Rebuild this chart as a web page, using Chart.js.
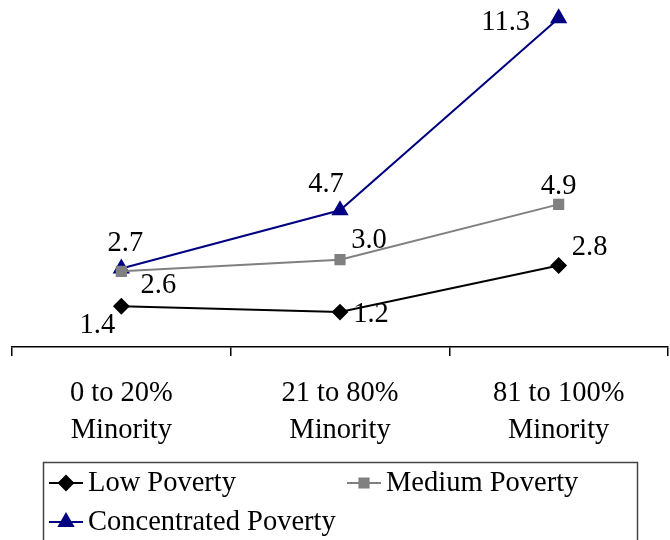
<!DOCTYPE html>
<html>
<head>
<meta charset="utf-8">
<script src="https://cdn.jsdelivr.net/npm/chart.js@4/dist/chart.umd.min.js"></script>
<style>
html,body{margin:0;padding:0;background:#fff;overflow:hidden;}
#wrap{width:670px;height:540px;position:relative;overflow:hidden;}
canvas{display:block;}
</style>
</head>
<body>
<div id="wrap"><canvas id="c" width="678" height="540"></canvas></div>
<script>
const categories = [["0 to 20%","Minority"],["21 to 80%","Minority"],["81 to 100%","Minority"]];
const lowPoverty = [1.4, 1.2, 2.8];
const mediumPoverty = [2.6, 3.0, 4.9];
const concentratedPoverty = [2.7, 4.7, 11.3];
const seriesNames = ["Low Poverty","Medium Poverty","Concentrated Poverty"];

const FONT = "'Liberation Serif','Times New Roman',serif";
const FS = 28.5;

// label offsets (style): [dx, dy] from point centre to label centre
const labelOffsets = [
  [[-24,19],[31,2],[31,-18]],
  [[37,14],[29,-19],[0,-18]],
  [[4,-25],[-14,-26],[-53,4]]
];

const dataLabels = {
  id:'dataLabels',
  afterDatasetsDraw(chart){
    const ctx = chart.ctx;
    ctx.save();
    ctx.font = FS + "px " + FONT;
    ctx.fillStyle = '#000';
    ctx.textAlign = 'center';
    ctx.textBaseline = 'middle';
    chart.data.datasets.forEach((ds,i)=>{
      const meta = chart.getDatasetMeta(i);
      meta.data.forEach((pt,j)=>{
        const o = labelOffsets[i][j];
        ctx.fillText(ds.data[j].toFixed(1), pt.x + o[0], pt.y + o[1]);
      });
    });
    ctx.restore();
  }
};

const boxLegend = {
  id:'boxLegend',
  afterDraw(chart){
    const ctx = chart.ctx;
    ctx.save();
    ctx.strokeStyle = '#444';
    ctx.lineWidth = 1.5;
    ctx.strokeRect(43.5, 462.5, 594, 100);
    const pos = [[49,483],[347,483],[49,522]];
    ctx.font = FS + "px " + FONT;
    ctx.textBaseline = 'middle';
    ctx.textAlign = 'left';
    chart.data.datasets.forEach((ds,i)=>{
      const [x,y] = pos[i];
      ctx.strokeStyle = ds.borderColor;
      ctx.lineWidth = 2;
      ctx.beginPath(); ctx.moveTo(x,y); ctx.lineTo(x+34,y); ctx.stroke();
      ctx.fillStyle = ds.pointBackgroundColor;
      ctx.strokeStyle = ds.pointBorderColor;
      Chart.helpers.drawPoint(ctx, {pointStyle: ds.pointStyle, radius: ds.pointRadius, rotation: 0, borderWidth:1}, x+17, y);
      ctx.fillStyle = '#000';
      ctx.fillText(ds.label, x+39, y+1);
    });
    ctx.restore();
  }
};

new Chart(document.getElementById('c'), {
  type:'line',
  data:{
    labels: categories,
    datasets:[
      {label:seriesNames[0], data:lowPoverty, borderColor:'#000', backgroundColor:'#000', pointBackgroundColor:'#000', pointBorderColor:'#000', pointStyle:'rectRot', pointRadius:7, borderWidth:2, clip:false},
      {label:seriesNames[1], data:mediumPoverty, borderColor:'#808080', backgroundColor:'#808080', pointBackgroundColor:'#808080', pointBorderColor:'#808080', pointStyle:'rect', pointRadius:6.5, borderWidth:2, clip:false},
      {label:seriesNames[2], data:concentratedPoverty, borderColor:'#000080', backgroundColor:'#000080', pointBackgroundColor:'#000080', pointBorderColor:'#000080', pointStyle:'triangle', pointRadius:8, borderWidth:2, clip:false}
    ]
  },
  options:{
    responsive:false,
    animation:false,
    events:[],
    layout:{padding:{top:9,left:12,right:2,bottom:0}},
    plugins:{legend:{display:false}, tooltip:{enabled:false}},
    scales:{
      y:{display:false, min:0, max:11.58},
      x:{
        offset:true,
        border:{display:true,color:'#000',width:1.5},
        grid:{display:true, offset:true, drawOnChartArea:false, drawTicks:true, tickLength:9, color:'#000', lineWidth:1.5},
        ticks:{color:'#000', font:{family:FONT,size:FS,lineHeight:1.3}, padding:19, maxRotation:0, autoSkip:false},
        afterFit(scale){ scale.height = 193; scale.paddingLeft = 0; scale.paddingRight = 0; }
      }
    }
  },
  plugins:[dataLabels, boxLegend]
});
</script>
</body>
</html>
